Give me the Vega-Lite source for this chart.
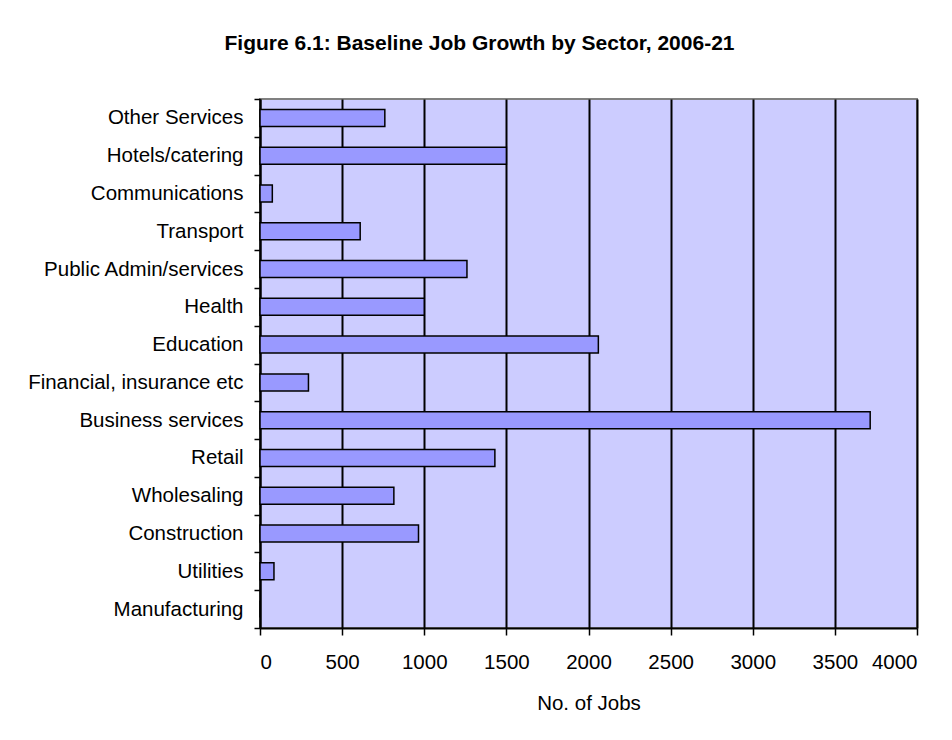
{
  "$schema": "https://vega.github.io/schema/vega-lite/v6.json",
  "autosize": {"type": "none"},
  "width": 657,
  "height": 529,
  "padding": {"left": 260, "top": 99, "right": 35, "bottom": 112},
  "background": "white",
  "title": {
    "text": "Figure 6.1: Baseline Job Growth by Sector, 2006-21",
    "anchor": "middle",
    "dx": -109,
    "offset": 18,
    "baseline": "alphabetic",
    "font": "Liberation Sans",
    "fontSize": 21,
    "fontWeight": "bold",
    "color": "black"
  },
  "data": {
    "values": [
      {"sector": "Other Services", "jobs": 760},
      {"sector": "Hotels/catering", "jobs": 1500},
      {"sector": "Communications", "jobs": 75},
      {"sector": "Transport", "jobs": 610},
      {"sector": "Public Admin/services", "jobs": 1260},
      {"sector": "Health", "jobs": 1000},
      {"sector": "Education", "jobs": 2060},
      {"sector": "Financial, insurance etc", "jobs": 295},
      {"sector": "Business services", "jobs": 3715},
      {"sector": "Retail", "jobs": 1430},
      {"sector": "Wholesaling", "jobs": 815},
      {"sector": "Construction", "jobs": 965},
      {"sector": "Utilities", "jobs": 85},
      {"sector": "Manufacturing", "jobs": 0}
    ]
  },
  "mark": {
    "type": "bar",
    "color": "#9999FF",
    "stroke": "black",
    "strokeWidth": 1.5,
    "height": {"band": 0.45}
  },
  "encoding": {
    "y": {
      "field": "sector",
      "type": "nominal",
      "sort": null,
      "scale": {"paddingInner": 0, "paddingOuter": 0},
      "axis": {
        "title": null,
        "tickBand": "extent",
        "domainColor": "black",
        "domainWidth": 2,
        "tickColor": "black",
        "tickWidth": 1.5,
        "tickSize": 6,
        "labelPadding": 11,
        "labelLimit": 400,
        "labelFont": "Liberation Sans",
        "labelFontSize": 20.5,
        "labelColor": "black",
        "grid": false
      }
    },
    "x": {
      "field": "jobs",
      "type": "quantitative",
      "scale": {"domain": [0, 4000], "nice": false},
      "axis": {
        "title": "No. of Jobs",
        "values": [0, 500, 1000, 1500, 2000, 2500, 3000, 3500, 4000],
        "format": "d",
        "grid": true,
        "gridColor": "black",
        "gridWidth": 2,
        "gridOpacity": 1,
        "domainColor": "black",
        "domainWidth": 2,
        "tickColor": "black",
        "tickWidth": 1.5,
        "tickSize": 7,
        "labelPadding": 17,
        "labelFont": "Liberation Sans",
        "labelFontSize": 20.5,
        "labelColor": "black",
        "titleFont": "Liberation Sans",
        "titleFontSize": 20.5,
        "titleFontWeight": "normal",
        "titleColor": "black",
        "titlePadding": 21
      }
    }
  },
  "config": {
    "view": {"fill": "#CCCCFF", "stroke": "#808080", "strokeWidth": 2}
  }
}
